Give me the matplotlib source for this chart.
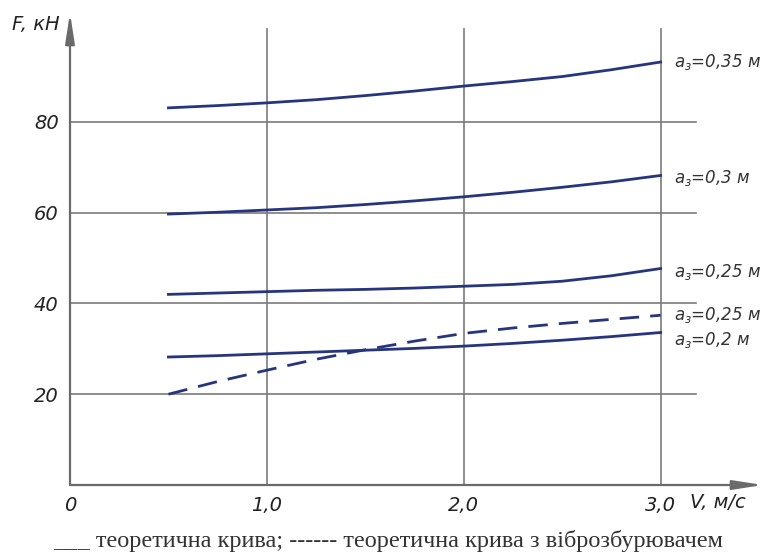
import matplotlib.pyplot as plt

plt.rcParams['font.family'] = ['DejaVu Sans']

# Швидкість V, м/с
v = [0.5, 0.75, 1.0, 1.25, 1.5, 1.75, 2.0, 2.25, 2.5, 2.75, 3.0]

# Зусилля F, кН для різних a_з (теоретичні криві)
f_035 = [83.1, 83.6, 84.2, 84.9, 85.8, 86.8, 87.9, 88.9, 90.0, 91.5, 93.2]
f_030 = [59.7, 60.1, 60.6, 61.1, 61.8, 62.6, 63.5, 64.5, 65.6, 66.8, 68.2]
f_025 = [42.0, 42.3, 42.6, 42.9, 43.1, 43.4, 43.8, 44.2, 44.9, 46.1, 47.7]
f_020 = [28.2, 28.5, 28.9, 29.3, 29.7, 30.1, 30.6, 31.2, 31.9, 32.7, 33.6]
# теоретична крива з віброзбурювачем
f_025_vib = [20.0, 22.8, 25.3, 27.7, 29.8, 31.7, 33.4, 34.6, 35.6, 36.5, 37.4]

x_ticks = [0, 1, 2, 3]
x_tick_labels = ['0', '1,0', '2,0', '3,0']
y_ticks = [20, 40, 60, 80]
y_tick_labels = ['20', '40', '60', '80']

curve_color = '#27357e'
grid_color = '#7a7a7a'

fig = plt.figure(figsize=(7.79, 5.59), dpi=100)
ax = fig.add_axes([70 / 779, 1 - 485 / 559, 693 / 779, 472 / 559])
ax.set_xlim(0, 3.52)
ax.set_ylim(0, 104)
for s in ax.spines.values():
    s.set_visible(False)

# сітка
for yv in y_ticks:
    ax.plot([0, 3.18], [yv, yv], color=grid_color, lw=1.2, zorder=1)
for xv in x_ticks[1:]:
    ax.plot([xv, xv], [0, 100.5], color=grid_color, lw=1.2, zorder=1)

# осі зі стрілками
arrow = dict(arrowstyle='-|>,head_length=1.8,head_width=0.28', color='#6a6a6a',
             lw=1.6, shrinkA=0, shrinkB=0)
ax.annotate('', xy=(1, 0), xytext=(0, 0), xycoords='axes fraction', arrowprops=arrow)
ax.annotate('', xy=(0, 1), xytext=(0, 0), xycoords='axes fraction', arrowprops=arrow)

# криві
ax.plot(v, f_035, color=curve_color, lw=2, zorder=3)
ax.plot(v, f_030, color=curve_color, lw=2, zorder=3)
ax.plot(v, f_025, color=curve_color, lw=2, zorder=3)
ax.plot(v, f_020, color=curve_color, lw=2, zorder=3)
ax.plot(v, f_025_vib, color=curve_color, lw=2, ls=(0, (7, 4)), zorder=3)

# підписи кривих
labels = [
    (f_035, '0,35', 0.0),
    (f_030, '0,3', -0.6),
    (f_025, '0,25', -0.8),
    (f_025_vib, '0,25', 0.0),
    (f_020, '0,2', -1.7),
]
for series, a_val, dy in labels:
    ax.text(3.07, series[-1] + dy, r'$a_з$' + '=' + a_val + ' м', fontsize=12,
            style='italic', va='center', ha='left', color='#333333')

# підписи поділок
ax.set_xticks(x_ticks)
ax.set_xticklabels(x_tick_labels, fontsize=14, style='italic', color='#222222')
ax.set_yticks(y_ticks)
ax.set_yticklabels(y_tick_labels, fontsize=14, style='italic', color='#222222')
ax.tick_params(length=0, pad=8)

fig.text(690 / 779, 1 - 503 / 559, 'V, м/с', fontsize=14, style='italic',
         va='center', ha='left', color='#222222')
fig.text(12 / 779, 1 - 25 / 559, 'F, кН', fontsize=14, style='italic',
         va='center', ha='left', color='#222222')

fig.text(388 / 779, 1 - 541 / 559, '___ теоретична крива; ------ теоретична крива з віброзбурювачем',
         fontsize=17.5, family=['Liberation Serif'], ha='center', va='center',
         color='#333333')

fig.savefig('out.png', dpi=100)
